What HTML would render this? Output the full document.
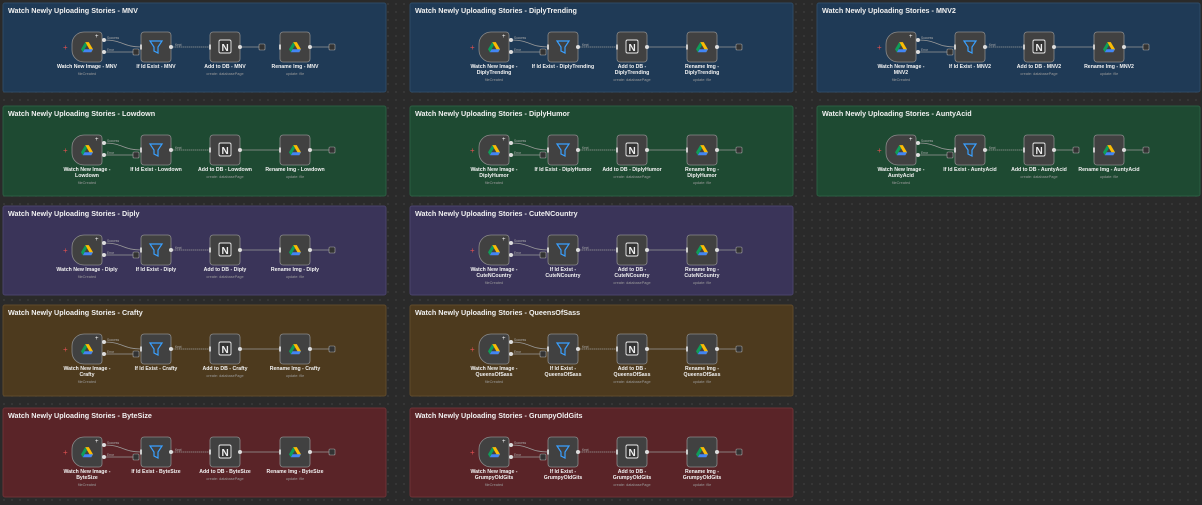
<!DOCTYPE html>
<html><head><meta charset="utf-8"><style>
html,body{margin:0;padding:0;background:#2a2a2a;}
body{width:1202px;height:505px;overflow:hidden;background-color:#2a2a2a;background-image:radial-gradient(#3a3a3a 0.8px,transparent 0.9px);background-size:8px 8px;}
svg{position:absolute;left:0;top:0;}
text{font-family:"Liberation Sans",sans-serif;}
.t{fill:#f0f0f0;font-size:7.2px;font-weight:bold;}
.n{fill:#f2f2f2;font-size:5.2px;font-weight:bold;text-anchor:middle;}
.s{fill:#9a9a9a;font-size:3.8px;text-anchor:middle;}
.h{fill:#aaa;font-size:3.2px;}
</style></head><body>
<svg width="1202" height="505" viewBox="0 0 1202 505">
<defs>
<symbol id="drive" viewBox="0 0 20 18" overflow="visible">
<polygon points="7,0 13,0 20,12 17,17" fill="#fbbc04"/>
<polygon points="7,0 0,12 3,17 10,5" fill="#0f9d58"/>
<polygon points="3,17 17,17 20,12 6,12" fill="#4285f4"/>
</symbol>
<g id="base">
<text x="60" y="47" fill="#e05050" font-size="8" font-family="Liberation Sans">+</text>
<path d="M81,29 H96 a3,3 0 0 1 3,3 V56 a3,3 0 0 1 -3,3 H81 a12,12 0 0 1 -12,-12 V41 a12,12 0 0 1 12,-12 Z" fill="#414141" stroke="#8a8a8a" stroke-width="0.8"/>
<use href="#drive" x="78" y="39" width="12" height="11"/>
<text x="92" y="35" fill="#fff" font-size="6">+</text>
<path d="M101,37 C120,37 120,44 138,44" stroke="#999" stroke-width="0.8" fill="none"/>
<line x1="101" y1="49" x2="130" y2="49" stroke="#999" stroke-width="0.8"/>
<rect x="130" y="46" width="6" height="6" rx="1" fill="#333" stroke="#aaa" stroke-width="0.6"/>
<circle cx="101" cy="37" r="2" fill="#ddd"/><circle cx="101" cy="49" r="2" fill="#ddd"/>
<text class="h" x="104" y="36">Success</text><text class="h" x="104" y="48">Error</text>
<rect x="138" y="29" width="30" height="30" rx="3" fill="#414141" stroke="#8a8a8a" stroke-width="0.8"/>
<rect x="137" y="41.5" width="2" height="5" fill="#ccc"/>
<path d="M147,38 H159 L155,44 V50 L151,48 V44 Z" fill="none" stroke="#3aa0ff" stroke-width="1.2"/>
<circle cx="168" cy="44" r="2" fill="#ddd"/>
<text class="h" x="172" y="43">Kept</text>
<line x1="170" y1="44" x2="207" y2="44" stroke="#999" stroke-width="0.8" stroke-dasharray="1.5,0.5"/>
<rect x="207" y="29" width="30" height="30" rx="3" fill="#414141" stroke="#8a8a8a" stroke-width="0.8"/>
<rect x="206" y="41.5" width="2" height="5" fill="#ccc"/>
<rect x="216" y="37" width="12" height="13" rx="1.5" fill="#333" stroke="#eee" stroke-width="0.9"/>
<text x="218.5" y="48" fill="#eee" font-size="10" font-weight="bold" font-family="Liberation Serif">N</text>
<circle cx="237" cy="44" r="2" fill="#ddd"/>
<rect x="277" y="29" width="30" height="30" rx="3" fill="#414141" stroke="#8a8a8a" stroke-width="0.8"/>
<rect x="276" y="41.5" width="2" height="5" fill="#ccc"/>
<use href="#drive" x="286" y="39" width="12" height="11"/>
<circle cx="307" cy="44" r="2" fill="#ddd"/>
<line x1="309" y1="44" x2="326" y2="44" stroke="#999" stroke-width="0.8"/>
<rect x="326" y="41" width="6" height="6" rx="1" fill="#333" stroke="#aaa" stroke-width="0.6"/>
</g>
<g id="flowA"><use href="#base"/><line x1="239" y1="44" x2="276" y2="44" stroke="#999" stroke-width="0.8"/></g>
<g id="flowB"><use href="#base"/><line x1="239" y1="44" x2="256" y2="44" stroke="#999" stroke-width="0.8"/><rect x="256" y="41" width="6" height="6" rx="1" fill="#333" stroke="#aaa" stroke-width="0.6"/></g>
</defs>

<g transform="translate(3,3)"><rect width="383" height="89" rx="2" fill="#1f3a56" stroke="#2d4a66"/><text class="t" x="5" y="10">Watch Newly Uploading Stories - MNV</text><use href="#flowB"/>
<text class="n" x="84" y="65">Watch New Image - MNV</text><text class="s" x="84" y="72">fileCreated</text>
<text class="n" x="153" y="65">If Id Exist - MNV</text>
<text class="n" x="222" y="65">Add to DB - MNV</text><text class="s" x="222" y="72">create: databasePage</text>
<text class="n" x="292" y="65">Rename Img - MNV</text><text class="s" x="292" y="72">update: file</text></g>

<g transform="translate(410,3)"><rect width="383" height="89" rx="2" fill="#1f3a56" stroke="#2d4a66"/><text class="t" x="5" y="10">Watch Newly Uploading Stories - DiplyTrending</text><use href="#flowA"/>
<text class="n" x="84" y="65">Watch New Image -</text><text class="n" x="84" y="71">DiplyTrending</text><text class="s" x="84" y="78">fileCreated</text>
<text class="n" x="153" y="65">If Id Exist - DiplyTrending</text>
<text class="n" x="222" y="65">Add to DB -</text><text class="n" x="222" y="71">DiplyTrending</text><text class="s" x="222" y="78">create: databasePage</text>
<text class="n" x="292" y="65">Rename Img -</text><text class="n" x="292" y="71">DiplyTrending</text><text class="s" x="292" y="78">update: file</text></g>

<g transform="translate(817,3)"><rect width="383" height="89" rx="2" fill="#1f3a56" stroke="#2d4a66"/><text class="t" x="5" y="10">Watch Newly Uploading Stories - MNV2</text><use href="#flowA"/>
<text class="n" x="84" y="65">Watch New Image -</text><text class="n" x="84" y="71">MNV2</text><text class="s" x="84" y="78">fileCreated</text>
<text class="n" x="153" y="65">If Id Exist - MNV2</text>
<text class="n" x="222" y="65">Add to DB - MNV2</text><text class="s" x="222" y="72">create: databasePage</text>
<text class="n" x="292" y="65">Rename Img - MNV2</text><text class="s" x="292" y="72">update: file</text></g>

<g transform="translate(3,106)"><rect width="383" height="90" rx="2" fill="#1e4a32" stroke="#2b5e41"/><text class="t" x="5" y="10">Watch Newly Uploading Stories - Lowdown</text><use href="#flowA"/>
<text class="n" x="84" y="65">Watch New Image -</text><text class="n" x="84" y="71">Lowdown</text><text class="s" x="84" y="78">fileCreated</text>
<text class="n" x="153" y="65">If Id Exist - Lowdown</text>
<text class="n" x="222" y="65">Add to DB - Lowdown</text><text class="s" x="222" y="72">create: databasePage</text>
<text class="n" x="292" y="65">Rename Img - Lowdown</text><text class="s" x="292" y="72">update: file</text></g>

<g transform="translate(410,106)"><rect width="383" height="90" rx="2" fill="#1e4a32" stroke="#2b5e41"/><text class="t" x="5" y="10">Watch Newly Uploading Stories - DiplyHumor</text><use href="#flowA"/>
<text class="n" x="84" y="65">Watch New Image -</text><text class="n" x="84" y="71">DiplyHumor</text><text class="s" x="84" y="78">fileCreated</text>
<text class="n" x="153" y="65">If Id Exist - DiplyHumor</text>
<text class="n" x="222" y="65">Add to DB - DiplyHumor</text><text class="s" x="222" y="72">create: databasePage</text>
<text class="n" x="292" y="65">Rename Img -</text><text class="n" x="292" y="71">DiplyHumor</text><text class="s" x="292" y="78">update: file</text></g>

<g transform="translate(817,106)"><rect width="383" height="90" rx="2" fill="#1e4a32" stroke="#2b5e41"/><text class="t" x="5" y="10">Watch Newly Uploading Stories - AuntyAcid</text><use href="#flowB"/>
<text class="n" x="84" y="65">Watch New Image -</text><text class="n" x="84" y="71">AuntyAcid</text><text class="s" x="84" y="78">fileCreated</text>
<text class="n" x="153" y="65">If Id Exist - AuntyAcid</text>
<text class="n" x="222" y="65">Add to DB - AuntyAcid</text><text class="s" x="222" y="72">create: databasePage</text>
<text class="n" x="292" y="65">Rename Img - AuntyAcid</text><text class="s" x="292" y="72">update: file</text></g>

<g transform="translate(3,206)"><rect width="383" height="89" rx="2" fill="#3a3459" stroke="#4a436c"/><text class="t" x="5" y="10">Watch Newly Uploading Stories - Diply</text><use href="#flowA"/>
<text class="n" x="84" y="65">Watch New Image - Diply</text><text class="s" x="84" y="72">fileCreated</text>
<text class="n" x="153" y="65">If Id Exist - Diply</text>
<text class="n" x="222" y="65">Add to DB - Diply</text><text class="s" x="222" y="72">create: databasePage</text>
<text class="n" x="292" y="65">Rename Img - Diply</text><text class="s" x="292" y="72">update: file</text></g>

<g transform="translate(410,206)"><rect width="383" height="89" rx="2" fill="#3a3459" stroke="#4a436c"/><text class="t" x="5" y="10">Watch Newly Uploading Stories - CuteNCountry</text><use href="#flowA"/>
<text class="n" x="84" y="65">Watch New Image -</text><text class="n" x="84" y="71">CuteNCountry</text><text class="s" x="84" y="78">fileCreated</text>
<text class="n" x="153" y="65">If Id Exist -</text><text class="n" x="153" y="71">CuteNCountry</text>
<text class="n" x="222" y="65">Add to DB -</text><text class="n" x="222" y="71">CuteNCountry</text><text class="s" x="222" y="78">create: databasePage</text>
<text class="n" x="292" y="65">Rename Img -</text><text class="n" x="292" y="71">CuteNCountry</text><text class="s" x="292" y="78">update: file</text></g>

<g transform="translate(3,305)"><rect width="383" height="91" rx="2" fill="#4d3a1e" stroke="#604a2a"/><text class="t" x="5" y="10">Watch Newly Uploading Stories - Crafty</text><use href="#flowA"/>
<text class="n" x="84" y="65">Watch New Image -</text><text class="n" x="84" y="71">Crafty</text><text class="s" x="84" y="78">fileCreated</text>
<text class="n" x="153" y="65">If Id Exist - Crafty</text>
<text class="n" x="222" y="65">Add to DB - Crafty</text><text class="s" x="222" y="72">create: databasePage</text>
<text class="n" x="292" y="65">Rename Img - Crafty</text><text class="s" x="292" y="72">update: file</text></g>

<g transform="translate(410,305)"><rect width="383" height="91" rx="2" fill="#4d3a1e" stroke="#604a2a"/><text class="t" x="5" y="10">Watch Newly Uploading Stories - QueensOfSass</text><use href="#flowA"/>
<text class="n" x="84" y="65">Watch New Image -</text><text class="n" x="84" y="71">QueensOfSass</text><text class="s" x="84" y="78">fileCreated</text>
<text class="n" x="153" y="65">If Id Exist -</text><text class="n" x="153" y="71">QueensOfSass</text>
<text class="n" x="222" y="65">Add to DB -</text><text class="n" x="222" y="71">QueensOfSass</text><text class="s" x="222" y="78">create: databasePage</text>
<text class="n" x="292" y="65">Rename Img -</text><text class="n" x="292" y="71">QueensOfSass</text><text class="s" x="292" y="78">update: file</text></g>

<g transform="translate(3,408)"><rect width="383" height="89" rx="2" fill="#5a2428" stroke="#6e3236"/><text class="t" x="5" y="10">Watch Newly Uploading Stories - ByteSize</text><use href="#flowA"/>
<text class="n" x="84" y="65">Watch New Image -</text><text class="n" x="84" y="71">ByteSize</text><text class="s" x="84" y="78">fileCreated</text>
<text class="n" x="153" y="65">If Id Exist - ByteSize</text>
<text class="n" x="222" y="65">Add to DB - ByteSize</text><text class="s" x="222" y="72">create: databasePage</text>
<text class="n" x="292" y="65">Rename Img - ByteSize</text><text class="s" x="292" y="72">update: file</text></g>

<g transform="translate(410,408)"><rect width="383" height="89" rx="2" fill="#5a2428" stroke="#6e3236"/><text class="t" x="5" y="10">Watch Newly Uploading Stories - GrumpyOldGits</text><use href="#flowA"/>
<text class="n" x="84" y="65">Watch New Image -</text><text class="n" x="84" y="71">GrumpyOldGits</text><text class="s" x="84" y="78">fileCreated</text>
<text class="n" x="153" y="65">If Id Exist -</text><text class="n" x="153" y="71">GrumpyOldGits</text>
<text class="n" x="222" y="65">Add to DB -</text><text class="n" x="222" y="71">GrumpyOldGits</text><text class="s" x="222" y="78">create: databasePage</text>
<text class="n" x="292" y="65">Rename Img -</text><text class="n" x="292" y="71">GrumpyOldGits</text><text class="s" x="292" y="78">update: file</text></g>
</svg>
</body></html>
